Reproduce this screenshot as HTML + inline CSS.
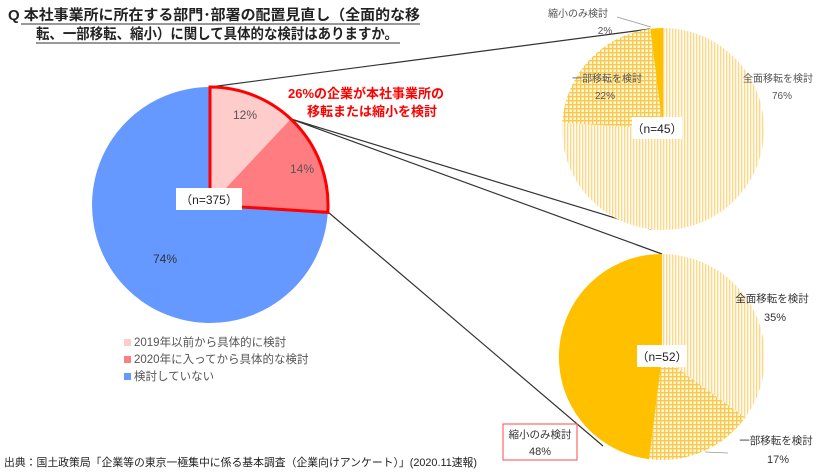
<!DOCTYPE html>
<html><head><meta charset="utf-8"><style>
html,body{margin:0;padding:0;background:#fff;width:824px;height:473px;overflow:hidden}
svg text{font-family:"Liberation Sans","Noto Sans CJK JP",sans-serif}
</style></head><body>
<svg width="824" height="473" viewBox="0 0 824 473" xmlns="http://www.w3.org/2000/svg">
<defs>
<pattern id="vs" width="3" height="3" patternUnits="userSpaceOnUse">
<rect width="3" height="3" fill="#fffaf0"/><rect width="1.3" height="3" fill="#fbd98a"/>
</pattern>
<pattern id="gr" width="4" height="4" patternUnits="userSpaceOnUse">
<rect width="4" height="4" fill="#fff6dc"/><rect width="1.4" height="4" fill="#f9c94e"/><rect width="4" height="1.4" fill="#f9c94e"/>
</pattern>
</defs>
<text x="8" y="20" font-size="14.5" font-weight="bold" fill="#222" textLength="412" lengthAdjust="spacingAndGlyphs">Q  本社事業所に所在する部門･部署の配置見直し（全面的な移</text>
<line x1="21" y1="24" x2="420" y2="24" stroke="#333" stroke-width="1"/>
<text x="36" y="39" font-size="14.5" font-weight="bold" fill="#222" textLength="362" lengthAdjust="spacingAndGlyphs">転、一部移転、縮小）に関して具体的な検討はありますか。</text>
<line x1="36" y1="43" x2="400" y2="43" stroke="#333" stroke-width="1"/>

<g stroke="#333" stroke-width="1.2">
<line x1="210" y1="87" x2="650" y2="29"/>
<line x1="291" y1="119" x2="651" y2="229"/>
<line x1="291" y1="119" x2="662" y2="254"/>
<line x1="328" y1="212" x2="603" y2="446"/>
</g>

<path d="M210,205 L327.8,212.4 A118,118 0 1 1 210,87 Z" fill="#6699ff"/>
<path d="M210,205 L210,87 A118,118 0 0 1 290.8,119 Z" fill="#ffcccc"/>
<path d="M210,205 L290.8,119 A118,118 0 0 1 327.8,212.4 Z" fill="#ff7c80"/>
<path d="M210,205 L210,87 A118,118 0 0 1 327.8,212.4 Z" fill="none" stroke="#ff0000" stroke-width="3"/>
<text x="245" y="119" font-size="12" fill="#555" text-anchor="middle">12%</text>
<text x="302" y="173" font-size="12" fill="#555" text-anchor="middle">14%</text>
<rect x="176" y="188" width="66" height="22" fill="#fff"/>
<text x="209" y="204" font-size="12" fill="#222" text-anchor="middle">（n=375）</text>
<text x="165" y="263" font-size="12" fill="#333" text-anchor="middle">74%</text>
<text x="366" y="98" font-size="13" font-weight="bold" fill="#ff0000" text-anchor="middle">26%の企業が本社事業所の</text>
<text x="372" y="116" font-size="13" font-weight="bold" fill="#ff0000" text-anchor="middle">移転または縮小を検討</text>

<rect x="124" y="339" width="7" height="7" fill="#ffcccc"/>
<text x="134" y="346" font-size="11.5" fill="#555">2019年以前から具体的に検討</text>
<rect x="124" y="356" width="7" height="7" fill="#ff7c80"/>
<text x="134" y="363" font-size="11.5" fill="#555">2020年に入ってから具体的な検討</text>
<rect x="124" y="373" width="7" height="7" fill="#6699ff"/>
<text x="134" y="380" font-size="11.5" fill="#555">検討していない</text>

<text x="4" y="466" font-size="11" fill="#222" textLength="473" lengthAdjust="spacingAndGlyphs">出典：国土政策局「企業等の東京一極集中に係る基本調査（企業向けアンケート）」(2020.11速報)</text>

<path d="M663,129 L663,28 A101,101 0 1 1 562.2,122.7 Z" fill="url(#vs)"/>
<path d="M663,129 L562.2,122.7 A101,101 0 0 1 650.3,28.8 Z" fill="url(#gr)"/>
<path d="M663,129 L650.3,28.8 A101,101 0 0 1 663,28 Z" fill="#ffc000"/>
<line x1="617" y1="17" x2="651" y2="27" stroke="#999" stroke-width="0.8"/>
<text x="578" y="17" font-size="10" fill="#555" text-anchor="middle">縮小のみ検討</text>
<text x="605" y="34" font-size="10" fill="#555" text-anchor="middle">2%</text>
<text x="607" y="82" font-size="10" fill="#555" text-anchor="middle">一部移転を検討</text>
<text x="605" y="99" font-size="10" fill="#555" text-anchor="middle">22%</text>
<text x="778" y="82" font-size="10" fill="#555" text-anchor="middle">全面移転を検討</text>
<text x="782" y="99" font-size="10" fill="#555" text-anchor="middle">76%</text>
<rect x="632" y="117" width="50" height="22" fill="#fff"/>
<text x="657" y="133" font-size="12" fill="#222" text-anchor="middle">（n=45）</text>

<path d="M662,357 L662,254 A103,103 0 0 1 745.3,417.5 Z" fill="url(#vs)"/>
<path d="M662,357 L745.3,417.5 A103,103 0 0 1 649.1,459.2 Z" fill="url(#gr)"/>
<path d="M662,357 L649.1,459.2 A103,103 0 0 1 662,254 Z" fill="#ffc000"/>
<line x1="705" y1="452" x2="728" y2="453" stroke="#999" stroke-width="0.8"/>
<text x="772" y="302" font-size="10.5" fill="#333" text-anchor="middle">全面移転を検討</text>
<text x="775" y="321" font-size="11" fill="#333" text-anchor="middle">35%</text>
<text x="776" y="444" font-size="10.5" fill="#333" text-anchor="middle">一部移転を検討</text>
<text x="778" y="463" font-size="11" fill="#333" text-anchor="middle">17%</text>
<rect x="637" y="345" width="50" height="22" fill="#fff"/>
<text x="662" y="361" font-size="12" fill="#222" text-anchor="middle">（n=52）</text>
<rect x="503" y="424" width="74" height="36" fill="#fff" stroke="#ff6666" stroke-width="1.2"/>
<text x="540" y="438" font-size="10.5" fill="#333" text-anchor="middle">縮小のみ検討</text>
<text x="540" y="455" font-size="11" fill="#333" text-anchor="middle">48%</text>
</svg>
</body></html>
